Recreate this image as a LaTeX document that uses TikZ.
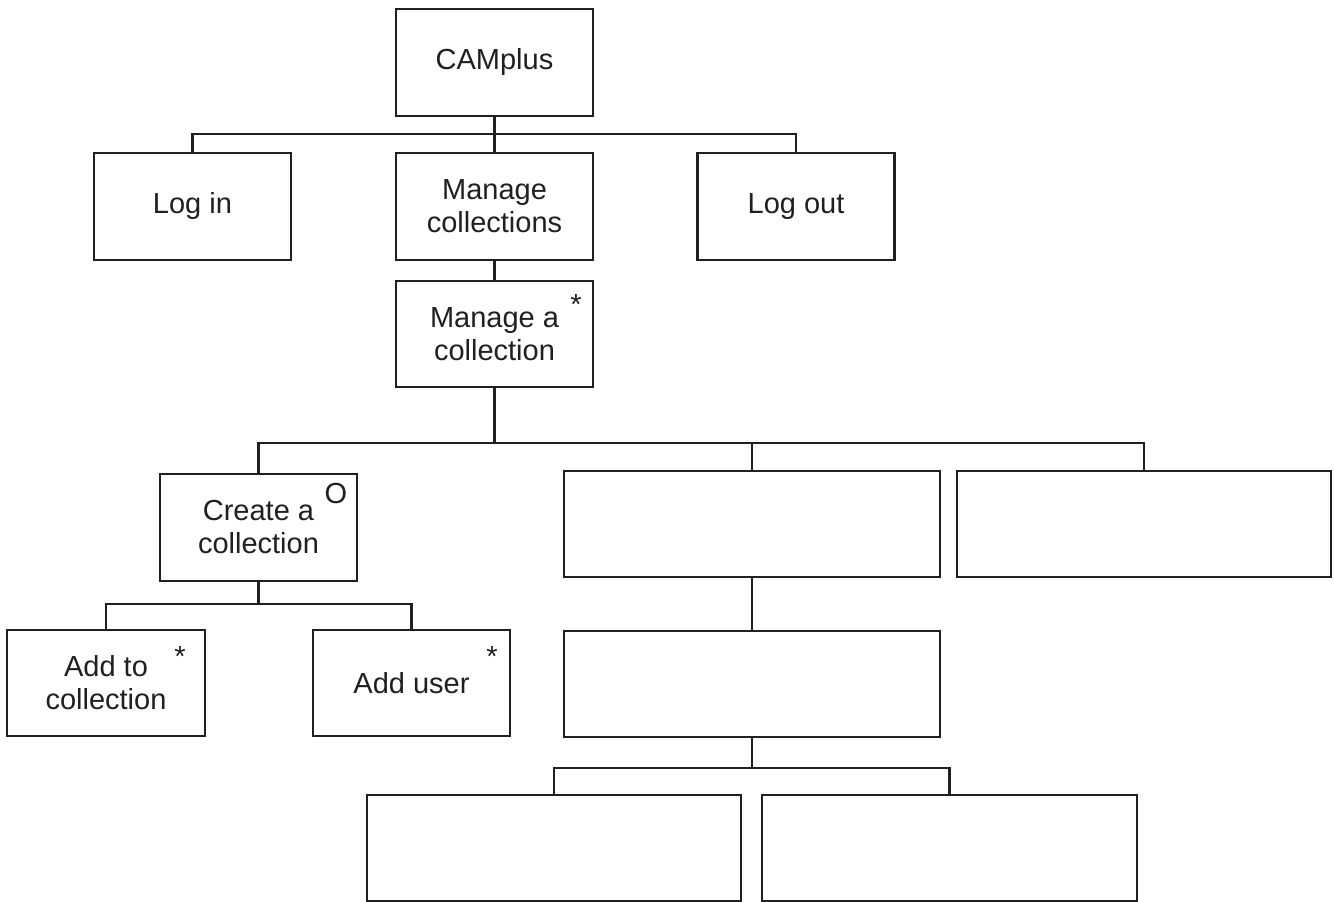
\documentclass[tikz,border=0pt]{standalone}
\usepackage{fontspec}
\setmainfont{Liberation Sans}
\definecolor{ink}{HTML}{231F20}
\begin{document}
\begin{tikzpicture}[x=1pt,y=-1pt,
  box/.style={draw=ink, line width=2.6pt, rectangle, inner sep=0pt, align=center,
    font=\fontsize{29}{33}\selectfont, text=ink},
  conn/.style={draw=ink, line width=2.4pt},
  tag/.style={anchor=base, inner sep=0pt, font=\fontsize{29}{33}\selectfont, text=ink}]
\useasboundingbox[fill=white] (0,0) rectangle (1334,902);
% boxes
\node[box, minimum width=197pt, minimum height=107pt] (cam) at (494.5,62.5) {CAMplus};
\node[box, minimum width=197pt, minimum height=107pt] (login) at (192.5,206.5) {Log in};
\node[box, minimum width=197pt, minimum height=107pt] (mcs) at (494.5,206.5) {Manage\\collections};
\node[box, minimum width=197pt, minimum height=107pt] (logout) at (796,206.5) {Log out};
\node[box, minimum width=197pt, minimum height=106pt] (mac) at (494.5,334) {Manage a\\collection};
\node[box, minimum width=197pt, minimum height=107pt] (create) at (258.5,527.5) {Create a\\collection};
\node[box, minimum width=376pt, minimum height=106pt] (e1) at (752,524) {};
\node[box, minimum width=374pt, minimum height=106pt] (e2) at (1144,524) {};
\node[box, minimum width=198pt, minimum height=106pt] (addto) at (106,683) {Add to\\collection};
\node[box, minimum width=197pt, minimum height=106pt] (adduser) at (411.5,683) {Add user};
\node[box, minimum width=376pt, minimum height=106pt] (e3) at (752,684) {};
\node[box, minimum width=374pt, minimum height=106pt] (e4) at (554,848) {};
\node[box, minimum width=375pt, minimum height=106pt] (e5) at (949.5,848) {};
% markers
\node[tag] (s1) at (576,314) {*};
\node[tag] (o1) at (336,503) {O};
\node[tag] (s2) at (180,666) {*};
\node[tag] (s3) at (492,666) {*};
% bus coordinates
\coordinate (b1) at (494.5,134);
\coordinate (b2) at (494.5,443);
\coordinate (b3) at (258.5,604);
\coordinate (b4) at (752,768);
% connectors
\draw[conn] (cam.south) -- (mcs.north);
\draw[conn] (login.north) -- (login.north |- b1) -- (logout.north |- b1) -- (logout.north);
\draw[conn] (mcs.south) -- (mac.north);
\draw[conn] (mac.south) -- (b2);
\draw[conn] (create.north) -- (create.north |- b2) -- (e2.north |- b2) -- (e2.north);
\draw[conn] (e1.north) -- (e1.north |- b2);
\draw[conn] (create.south) -- (b3);
\draw[conn] (addto.north) -- (addto.north |- b3) -- (adduser.north |- b3) -- (adduser.north);
\draw[conn] (e1.south) -- (e3.north);
\draw[conn] (e3.south) -- (b4);
\draw[conn] (e4.north) -- (e4.north |- b4) -- (e5.north |- b4) -- (e5.north);
\end{tikzpicture}
\end{document}
